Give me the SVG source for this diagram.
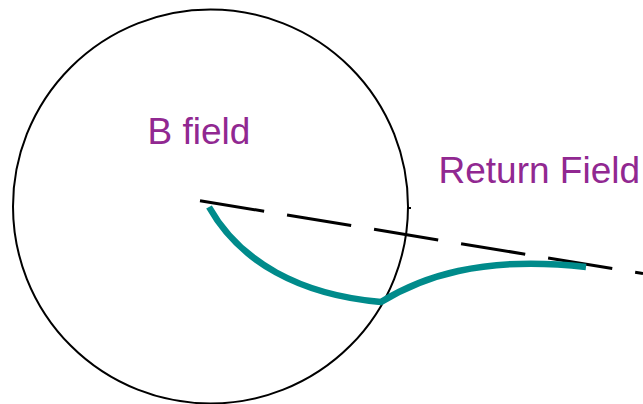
<svg xmlns="http://www.w3.org/2000/svg" width="643" height="404" viewBox="0 0 643 404">
<style>
.lbl{font-family:"Liberation Sans",Arial,sans-serif;font-size:37px;fill:#912891}
</style>
<rect width="643" height="404" fill="#ffffff"/>
<g id="field-circle">
<ellipse cx="210.5" cy="206.5" rx="197.5" ry="197" fill="none" stroke="#000" stroke-width="2"/>
<line x1="407" y1="208" x2="411" y2="208" stroke="#000" stroke-width="2"/>
<text class="lbl" x="147.5" y="143.5">B field</text>
</g>
<g id="return-field">
<text class="lbl" x="438.5" y="182.5">Return Field</text>
</g>
<g id="connectors">
<line x1="200" y1="200.7" x2="643" y2="273.6" stroke="#000" stroke-width="3" stroke-dasharray="65 23.2"/>
<path d="M209,207 C240,262 300,295 381,302 C420,278 480,255 586,267" fill="none" stroke="#008b8b" stroke-width="6.5"/>
</g>
</svg>
